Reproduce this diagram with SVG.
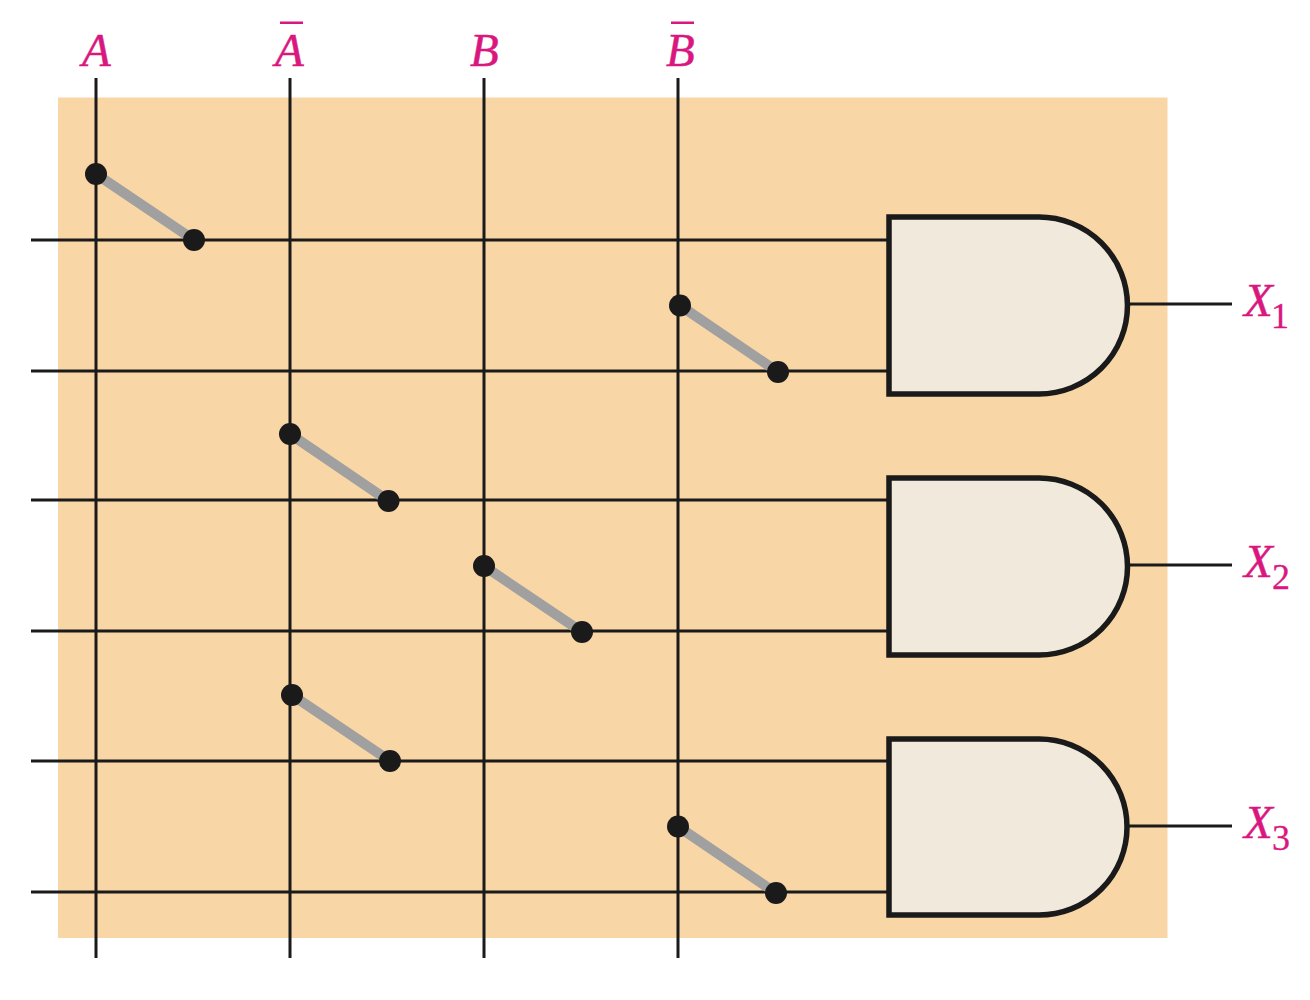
<svg xmlns="http://www.w3.org/2000/svg" width="1310" height="1000" viewBox="0 0 1310 1000">
<style>
.w{stroke:#1a1a1a;stroke-width:3;fill:none}
.l{stroke:#a0a0a0;stroke-width:10;fill:none}
.d{fill:#1a1a1a}
.g{fill:#f1eadc;stroke:#1a1a1a;stroke-width:5.5;stroke-linejoin:miter}
.t{font-family:"Liberation Serif",serif;font-style:italic;font-size:47px;fill:#d9187f;stroke:#d9187f;stroke-width:.5}
.s{font-family:"Liberation Serif",serif;font-size:36px;fill:#d9187f;stroke:#d9187f;stroke-width:.3}
.b{fill:#d9187f}
</style>
<rect id="panel" x="58" y="97.500" width="1109.500" height="840.500" fill="#f9d6a5"/>
<g id="connectors">
<path class="w" d="M96 78V958M290 78V958M484 78V958M678 78V958"/>
<path class="w" d="M31 240H889M31 371H889M31 500H889M31 631H889M31 761H889M31 892H889"/>
<path class="w" d="M1127 304H1232M1127 565H1232M1127 826H1232"/>
</g>
<g id="fuses">
<g id="fuse1"><line class="l" x1="96" y1="174" x2="194" y2="240"/><circle class="d" cx="96" cy="174" r="11"/><circle class="d" cx="194" cy="240" r="11"/></g>
<g id="fuse2"><line class="l" x1="680" y1="305.500" x2="778" y2="372"/><circle class="d" cx="680" cy="305.500" r="11"/><circle class="d" cx="778" cy="372" r="11"/></g>
<g id="fuse3"><line class="l" x1="290" y1="434" x2="388.500" y2="501"/><circle class="d" cx="290" cy="434" r="11"/><circle class="d" cx="388.500" cy="501" r="11"/></g>
<g id="fuse4"><line class="l" x1="484" y1="566" x2="582" y2="632"/><circle class="d" cx="484" cy="566" r="11"/><circle class="d" cx="582" cy="632" r="11"/></g>
<g id="fuse5"><line class="l" x1="292" y1="695" x2="390" y2="761"/><circle class="d" cx="292" cy="695" r="11"/><circle class="d" cx="390" cy="761" r="11"/></g>
<g id="fuse6"><line class="l" x1="678" y1="826.500" x2="776" y2="893"/><circle class="d" cx="678" cy="826.500" r="11"/><circle class="d" cx="776" cy="893" r="11"/></g>
</g>
<g id="gate1"><path class="g" d="M889 217H1039A88.500 88.500 0 0 1 1039 394H889Z"/></g>
<g id="gate2"><path class="g" d="M889 478H1039A88.500 88.500 0 0 1 1039 655H889Z"/></g>
<g id="gate3"><path class="g" d="M889 739H1039A88 88 0 0 1 1039 915H889Z"/></g>
<g id="label-A"><text class="t" x="82" y="66">A</text></g>
<g id="label-A-bar"><text class="t" x="275" y="66">A</text><rect class="b" x="280" y="21.500" width="23" height="2.500"/></g>
<g id="label-B"><text class="t" x="470" y="66">B</text></g>
<g id="label-B-bar"><text class="t" x="666" y="66">B</text><rect class="b" x="671" y="21.500" width="23" height="2.500"/></g>
<g id="label-X1"><text class="t" x="1244" y="316">X</text><text class="s" x="1271" y="328">1</text></g>
<g id="label-X2"><text class="t" x="1244" y="577">X</text><text class="s" x="1272" y="589">2</text></g>
<g id="label-X3"><text class="t" x="1244" y="838">X</text><text class="s" x="1272" y="850">3</text></g>
</svg>
